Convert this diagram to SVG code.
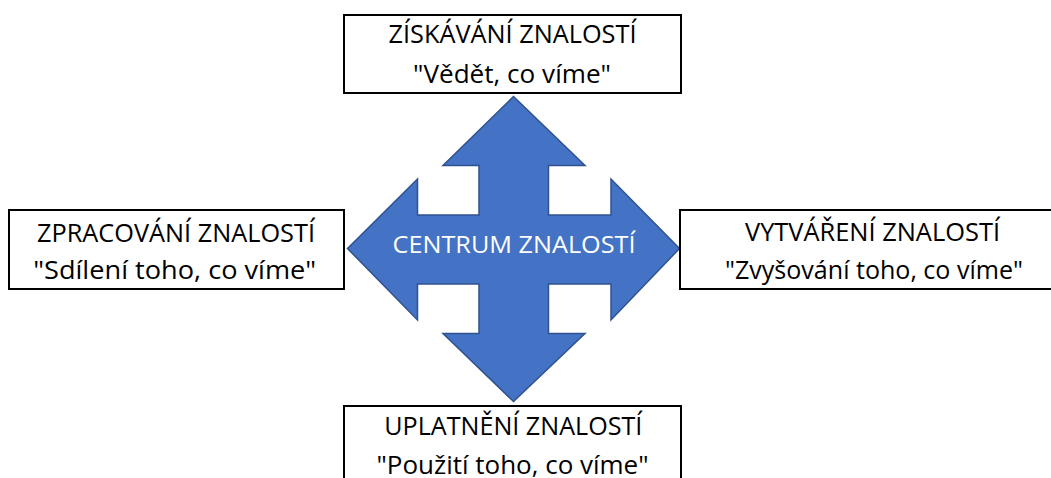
<svg xmlns="http://www.w3.org/2000/svg" width="1051" height="478" viewBox="0 0 1051 478">
<style>
.box{fill:#fff;stroke:#000;stroke-width:2}
.t{font-family:"Open Sans","Liberation Sans",sans-serif;font-size:25px;fill:#000;text-anchor:middle}
.c{font-family:"Open Sans","Liberation Sans",sans-serif;font-size:24.5px;fill:#fff;text-anchor:middle}
.arrow{fill:#4472C4;stroke:#2F528F;stroke-width:1.5;stroke-linejoin:miter}
</style>
<rect width="1051" height="478" fill="#fff"/>
<g id="connectors">
<path class="arrow" d="M513.5,96.5 L585,165.5 L548.5,165.5 L548.5,215 L611,215 L611,179 L679.5,248.5 L611,320 L611,284 L548.5,284 L548.5,333.5 L585,333.5 L513.5,401.5 L443,333.5 L479,333.5 L479,284 L417.5,284 L417.5,320 L347.5,248.5 L417.5,179 L417.5,215 L479,215 L479,165.5 L443,165.5 Z"/>
</g>
<g id="center">
<text class="c" x="514" y="252.5" textLength="243" lengthAdjust="spacingAndGlyphs">CENTRUM ZNALOSTÍ</text>
</g>
<g id="top">
<rect class="box" x="344" y="15" width="337" height="78"/>
<text class="t" x="512.5" y="43" textLength="248" lengthAdjust="spacingAndGlyphs">ZÍSKÁVÁNÍ ZNALOSTÍ</text>
<text class="t" x="512" y="83" textLength="198" lengthAdjust="spacingAndGlyphs">"Vědět, co víme"</text>
</g>
<g id="left">
<rect class="box" x="9" y="210" width="335" height="79"/>
<text class="t" x="176" y="241.5" textLength="278" lengthAdjust="spacingAndGlyphs">ZPRACOVÁNÍ ZNALOSTÍ</text>
<text class="t" x="174.7" y="278.5" textLength="283" lengthAdjust="spacingAndGlyphs">"Sdílení toho, co víme"</text>
</g>
<g id="right">
<rect class="box" x="680" y="210" width="390" height="79"/>
<text class="t" x="872.5" y="240.5" textLength="255" lengthAdjust="spacingAndGlyphs">VYTVÁŘENÍ ZNALOSTÍ</text>
<text class="t" x="874" y="278.5" textLength="298" lengthAdjust="spacingAndGlyphs">"Zvyšování toho, co víme"</text>
</g>
<g id="bottom">
<rect class="box" x="344" y="406" width="337" height="90"/>
<text class="t" x="513.3" y="435" textLength="258" lengthAdjust="spacingAndGlyphs">UPLATNĚNÍ ZNALOSTÍ</text>
<text class="t" x="512.5" y="474" textLength="272" lengthAdjust="spacingAndGlyphs">"Použití toho, co víme"</text>
</g>
</svg>
